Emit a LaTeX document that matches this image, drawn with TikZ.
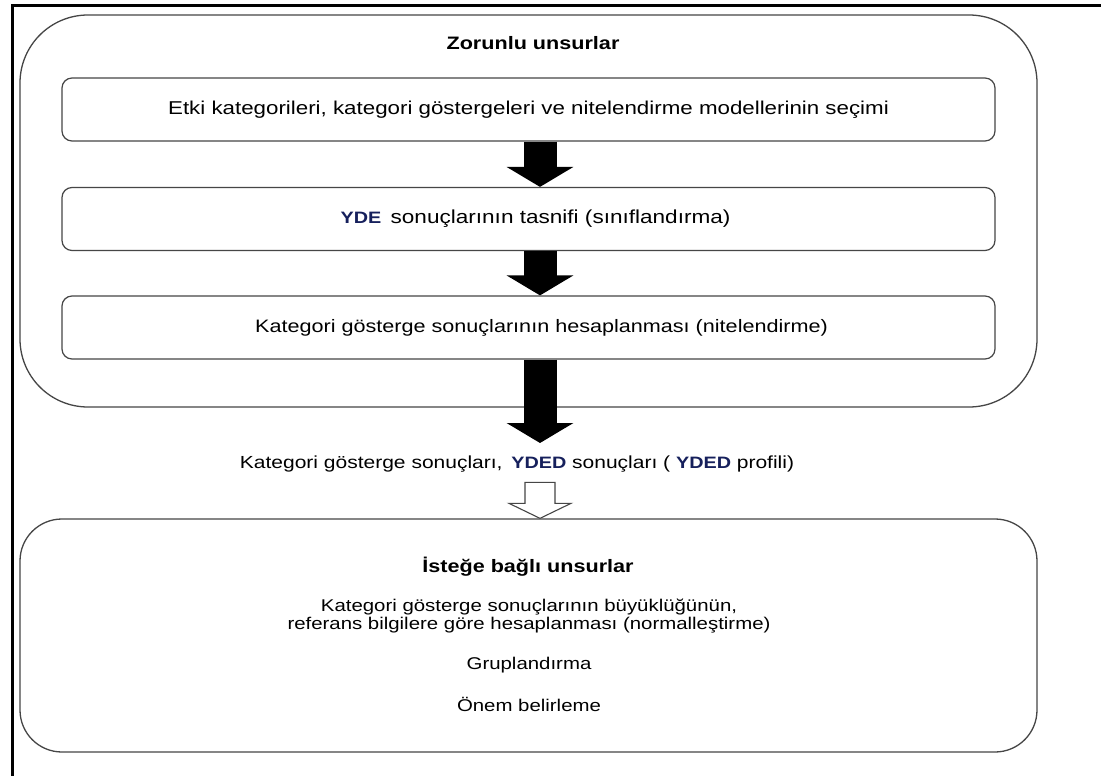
\documentclass[tikz,border=0pt]{standalone}
\usepackage{fontspec}
\setmainfont{Liberation Sans}[FakeStretch=1.2]
\usetikzlibrary{arrows.meta,calc}
\definecolor{boxline}{RGB}{70,70,70}
\definecolor{acro}{RGB}{22,32,92}
% bold, dark-blue abbreviations inside running text
\newcommand\acr[1]{{\bfseries\color{acro}\fontsize{16.5}{19}\selectfont #1}}
\begin{document}
\begin{tikzpicture}[x=1pt,y=-1pt,
  panel/.style={draw=boxline,line width=1.3pt,rounded corners=#1,
                minimum width=1017pt,inner sep=0pt},
  stepbox/.style={draw=boxline,line width=1.2pt,rounded corners=10pt,
                  minimum width=933pt,minimum height=63pt,inner sep=0pt,
                  font=\fontsize{18}{22}\selectfont},
  body/.style={font=\fontsize{17.5}{20}\selectfont,inner sep=0pt},
  heading/.style={font=\bfseries\fontsize{18}{21}\selectfont,inner sep=0pt},
  flow/.style={line width=33pt,-{Triangle[width=66pt,length=20pt]}},
  hollow/.style={draw=boxline,line width=1.1pt,fill=white,line join=miter},
]
\useasboundingbox (0,0) rectangle (1101,776);
\fill[white] (0,0) rectangle (1101,776);

% page frame (top and left edges)
\draw[line width=3pt] (12,777) -- (12,6) -- (1102,6);

% mandatory elements
\node[panel=68pt,minimum height=392pt] (mand) at (528.5,211) {};
\node[heading] (mandtitle) at (533,43) {Zorunlu unsurlar};
\node[stepbox,font=\fontsize{18.6}{22}\selectfont] (s1) at (528.5,109.5)
  {Etki kategorileri, kategori göstergeleri ve nitelendirme modellerinin seçimi};
\node[stepbox,font=\fontsize{18.8}{22}\selectfont] (s2) at (528.5,219)
  {\hspace*{14pt}\acr{YDE}\, sonuçlarının tasnifi (sınıflandırma)};
\node[stepbox] (s3) at (528.5,327.5)
  {\hspace*{26pt}Kategori gösterge sonuçlarının hesaplanması (nitelendirme)};

\draw[flow] ([xshift=11.5pt]s1.south) -- ([xshift=11.5pt]s2.north);
\draw[flow] ([xshift=11.5pt]s2.south) -- ([xshift=11.5pt]s3.north);
\coordinate (resin) at (540,443);
\draw[flow] ([xshift=11.5pt]s3.south) -- (resin);

% result
\node[body] (res) at (517,464)
  {Kategori gösterge sonuçları,\enspace\acr{YDED} sonuçları ( \acr{YDED} profili)};

% optional elements
\node[panel=42pt,minimum height=233pt] (opt) at (528.5,635.5) {};
\coordinate (tip) at ([xshift=11.5pt]opt.north);
\draw[hollow] (tip) -- ++(-31,-15) -- ++(16,0) -- ++(0,-21) -- ++(30,0)
  -- ++(0,21) -- ++(16,0) -- cycle;

\node[heading] (opttitle) at (528,567) {İsteğe bağlı unsurlar};
\node[body,align=center,font=\fontsize{17}{18}\selectfont] (norm) at (529,616)
  {Kategori gösterge sonuçlarının büyüklüğünün,\\
   referans bilgilere göre hesaplanması (normalleştirme)};
\node[body,font=\fontsize{17}{20}\selectfont] (group) at (529,665) {Gruplandırma};
\node[body,font=\fontsize{17}{20}\selectfont] (weight) at (529,704) {Önem belirleme};
\end{tikzpicture}
\end{document}
